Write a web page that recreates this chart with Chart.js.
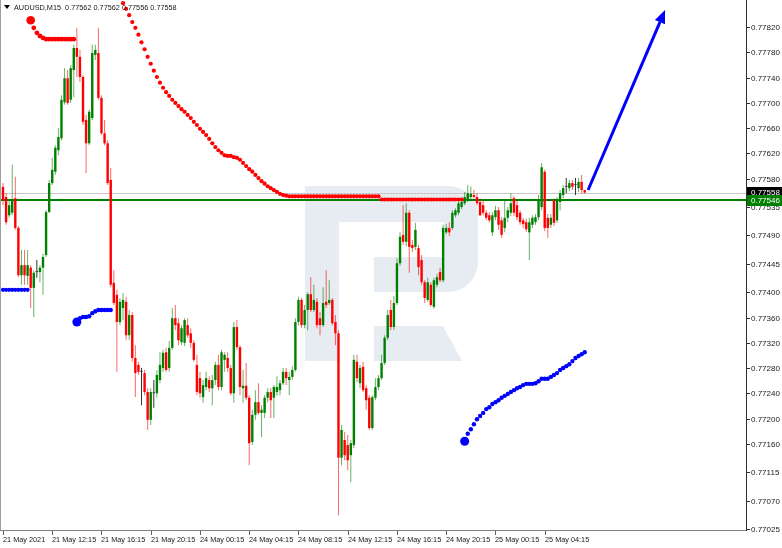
<!DOCTYPE html>
<html><head><meta charset="utf-8">
<script src="https://cdn.jsdelivr.net/npm/chart.js@4/dist/chart.umd.min.js"></script>
<style>html,body{margin:0;padding:0;background:#fff;overflow:hidden}#c{display:block}</style>
</head><body>
<canvas id="c" width="782" height="548"></canvas>
<script>
// ---------------- data ----------------
const symbolTitle = 'AUDUSD,M15';
const xTickBars = [0,16,32,48,64,80,96,112,128,144,160,176];
const xTickLabels = ['21 May 2021','21 May 12:15','21 May 16:15','21 May 20:15','24 May 00:15','24 May 04:15','24 May 08:15','24 May 12:15','24 May 16:15','24 May 20:15','25 May 00:15','25 May 04:15'];
const yTickValues = [0.77820,0.77780,0.77740,0.77700,0.77660,0.77620,0.77580,0.77535,0.77490,0.77445,0.77400,0.77360,0.77320,0.77280,0.77240,0.77200,0.77160,0.77115,0.77070,0.77025];

const openP = [
0.77567,0.77551,0.77522,0.77526,0.77549,0.77502,0.77427,0.77443,0.77426,0.77439,
0.77407,0.77432,0.77432,0.77439,0.77459,0.77527,0.77573,0.77591,0.77625,0.77644,
0.77701,0.77739,0.77705,0.77752,0.77787,0.77773,0.77741,0.77673,0.77636,0.77676,
0.77776,0.77779,0.77708,0.77652,0.77636,0.77578,0.77415,0.77396,0.77353,0.77375,
0.77385,0.77332,0.77364,0.77296,0.77285,0.77274,0.77272,0.77242,0.77198,0.77240,
0.77240,0.77261,0.77280,0.77305,0.77280,0.77312,0.77359,0.77351,0.77321,0.77320,
0.77348,0.77335,0.77320,0.77285,0.77264,0.77234,0.77250,0.77261,0.77248,0.77261,
0.77285,0.77250,0.77293,0.77296,0.77280,0.77240,0.77345,0.77313,0.77248,0.77252,
0.77233,0.77163,0.77206,0.77226,0.77209,0.77209,0.77233,0.77242,0.77233,0.77242,
0.77245,0.77256,0.77274,0.77261,0.77266,0.77277,0.77353,0.77388,0.77348,0.77372,
0.77397,0.77372,0.77385,0.77359,0.77348,0.77385,0.77383,0.77388,0.77353,0.77335,
0.77138,0.77166,0.77158,0.77142,0.77158,0.77290,0.77256,0.77282,0.77248,0.77233,
0.77185,0.77233,0.77250,0.77264,0.77288,0.77328,0.77372,0.77345,0.77383,0.77446,
0.77491,0.77480,0.77526,0.77475,0.77472,0.77470,0.77451,0.77416,0.77388,0.77412,
0.77377,0.77412,0.77432,0.77419,0.77495,0.77502,0.77502,0.77522,0.77526,0.77535,
0.77541,0.77546,0.77551,0.77554,0.77551,0.77543,0.77538,0.77526,0.77522,0.77495,
0.77519,0.77530,0.77514,0.77502,0.77518,0.77526,0.77549,0.77538,0.77526,0.77514,
0.77511,0.77495,0.77507,0.77511,0.77519,0.77535,0.77591,0.77518,0.77507,0.77546,
0.77514,0.77543,0.77554,0.77567,0.77565,0.77573,0.77570,0.77565,0.77575,0.77562];
const highP = [
0.77573,0.77557,0.77546,0.77602,0.77583,0.77505,0.77467,0.77467,0.77467,0.77443,
0.77435,0.77451,0.77443,0.77461,0.77530,0.77578,0.77613,0.77633,0.77660,0.77712,
0.77755,0.77752,0.77760,0.77792,0.77819,0.77784,0.77744,0.77681,0.77689,0.77792,
0.77792,0.77819,0.77712,0.77673,0.77641,0.77597,0.77435,0.77404,0.77391,0.77399,
0.77393,0.77372,0.77369,0.77316,0.77290,0.77280,0.77277,0.77248,0.77248,0.77261,
0.77277,0.77305,0.77309,0.77312,0.77323,0.77375,0.77380,0.77359,0.77348,0.77359,
0.77359,0.77343,0.77324,0.77301,0.77274,0.77261,0.77274,0.77267,0.77269,0.77290,
0.77301,0.77309,0.77305,0.77305,0.77285,0.77353,0.77356,0.77316,0.77277,0.77288,
0.77237,0.77214,0.77245,0.77256,0.77221,0.77237,0.77248,0.77248,0.77253,0.77267,
0.77261,0.77280,0.77280,0.77274,0.77283,0.77359,0.77393,0.77391,0.77380,0.77400,
0.77424,0.77412,0.77391,0.77369,0.77408,0.77435,0.77419,0.77391,0.77364,0.77340,
0.77190,0.77179,0.77174,0.77166,0.77301,0.77301,0.77285,0.77290,0.77253,0.77237,
0.77237,0.77264,0.77269,0.77301,0.77332,0.77372,0.77388,0.77394,0.77454,0.77495,
0.77538,0.77541,0.77530,0.77483,0.77510,0.77475,0.77459,0.77419,0.77423,0.77416,
0.77423,0.77429,0.77439,0.77507,0.77508,0.77511,0.77530,0.77533,0.77546,0.77548,
0.77559,0.77570,0.77568,0.77562,0.77557,0.77549,0.77546,0.77530,0.77527,0.77527,
0.77537,0.77535,0.77519,0.77546,0.77535,0.77557,0.77553,0.77546,0.77530,0.77518,
0.77516,0.77518,0.77522,0.77524,0.77554,0.77605,0.77594,0.77524,0.77524,0.77549,
0.77551,0.77562,0.77570,0.77581,0.77578,0.77578,0.77581,0.77581,0.77586,0.77562];
const lowP = [
0.77538,0.77507,0.77518,0.77522,0.77499,0.77424,0.77412,0.77412,0.77412,0.77375,
0.77361,0.77423,0.77416,0.77396,0.77456,0.77526,0.77570,0.77586,0.77617,0.77641,
0.77697,0.77697,0.77700,0.77709,0.77741,0.77733,0.77665,0.77589,0.77633,0.77673,
0.77768,0.77705,0.77649,0.77633,0.77570,0.77408,0.77380,0.77274,0.77348,0.77356,
0.77324,0.77324,0.77290,0.77234,0.77269,0.77221,0.77237,0.77182,0.77190,0.77217,
0.77233,0.77256,0.77274,0.77274,0.77274,0.77309,0.77340,0.77316,0.77316,0.77315,
0.77328,0.77312,0.77290,0.77237,0.77233,0.77225,0.77245,0.77242,0.77221,0.77253,
0.77245,0.77245,0.77274,0.77274,0.77237,0.77225,0.77309,0.77237,0.77225,0.77229,
0.77126,0.77158,0.77198,0.77206,0.77171,0.77201,0.77226,0.77201,0.77201,0.77236,
0.77237,0.77253,0.77253,0.77237,0.77261,0.77274,0.77348,0.77343,0.77343,0.77340,
0.77369,0.77369,0.77343,0.77332,0.77345,0.77375,0.77380,0.77348,0.77316,0.77047,
0.77126,0.77134,0.77118,0.77099,0.77153,0.77258,0.77248,0.77242,0.77214,0.77182,
0.77182,0.77229,0.77245,0.77261,0.77285,0.77324,0.77340,0.77340,0.77380,0.77442,
0.77475,0.77473,0.77431,0.77464,0.77467,0.77427,0.77412,0.77383,0.77385,0.77377,
0.77374,0.77408,0.77416,0.77416,0.77492,0.77489,0.77499,0.77519,0.77522,0.77532,
0.77538,0.77543,0.77548,0.77548,0.77538,0.77521,0.77522,0.77514,0.77511,0.77489,
0.77514,0.77499,0.77486,0.77495,0.77511,0.77521,0.77521,0.77514,0.77507,0.77502,
0.77495,0.77451,0.77502,0.77507,0.77514,0.77530,0.77497,0.77486,0.77502,0.77505,
0.77510,0.77530,0.77549,0.77557,0.77560,0.77562,0.77554,0.77559,0.77557,0.77556];
const closeP = [
0.77546,0.77511,0.77538,0.77546,0.77502,0.77427,0.77443,0.77427,0.77443,0.77407,
0.77431,0.77432,0.77439,0.77456,0.77527,0.77573,0.77594,0.77629,0.77646,0.77705,
0.77739,0.77700,0.77755,0.77787,0.77773,0.77741,0.77670,0.77636,0.77686,0.77779,
0.77784,0.77708,0.77652,0.77636,0.77573,0.77412,0.77383,0.77353,0.77385,0.77388,
0.77332,0.77364,0.77296,0.77272,0.77274,0.77274,0.77242,0.77198,0.77242,0.77240,
0.77269,0.77285,0.77304,0.77277,0.77312,0.77359,0.77348,0.77324,0.77343,0.77356,
0.77332,0.77320,0.77293,0.77242,0.77240,0.77253,0.77264,0.77248,0.77261,0.77285,
0.77250,0.77305,0.77301,0.77280,0.77240,0.77345,0.77313,0.77250,0.77252,0.77233,
0.77161,0.77206,0.77226,0.77209,0.77214,0.77233,0.77242,0.77229,0.77250,0.77250,
0.77256,0.77274,0.77264,0.77266,0.77277,0.77353,0.77388,0.77348,0.77372,0.77397,
0.77372,0.77388,0.77348,0.77348,0.77383,0.77380,0.77388,0.77351,0.77335,0.77138,
0.77182,0.77142,0.77134,0.77161,0.77293,0.77264,0.77280,0.77245,0.77229,0.77185,
0.77234,0.77250,0.77264,0.77288,0.77328,0.77364,0.77345,0.77383,0.77446,0.77488,
0.77480,0.77526,0.77472,0.77470,0.77499,0.77440,0.77416,0.77391,0.77416,0.77380,
0.77419,0.77424,0.77419,0.77502,0.77502,0.77495,0.77526,0.77530,0.77541,0.77543,
0.77551,0.77557,0.77556,0.77551,0.77541,0.77522,0.77526,0.77518,0.77514,0.77522,
0.77530,0.77507,0.77491,0.77518,0.77530,0.77541,0.77526,0.77519,0.77511,0.77508,
0.77500,0.77511,0.77518,0.77519,0.77546,0.77598,0.77502,0.77502,0.77518,0.77510,
0.77546,0.77557,0.77565,0.77567,0.77573,0.77567,0.77570,0.77575,0.77562,0.77558];

// trailing-level dots (first bar index + values)
const redLevel1Start = 9;
const redLevel1 = [0.77831,0.77819,0.77811,0.77806,0.77803,0.77801,0.77801,0.77801,0.77801,0.77801,0.77801,0.77801,0.77801,0.77801,0.77801];
const redLevel2Start = 39;
const redLevel2 = [
0.77858,0.77849,0.77839,0.77828,0.77819,0.77808,0.77796,0.77785,0.77773,0.77762,
0.77751,0.77741,0.77732,0.77724,0.77717,0.77711,0.77705,0.77700,0.77695,0.77690,
0.77686,0.77681,0.77676,0.77670,0.77665,0.77659,0.77654,0.77649,0.77643,0.77636,
0.77630,0.77625,0.77621,0.77617,0.77616,0.77616,0.77614,0.77613,0.77610,0.77605,
0.77600,0.77595,0.77591,0.77586,0.77581,0.77576,0.77572,0.77568,0.77565,0.77562,
0.77559,0.77556,0.77554,0.77553,
0.77552,0.77552,0.77552,0.77552,0.77552,0.77552,0.77552,0.77552,0.77552,0.77552,
0.77552,0.77552,0.77552,0.77552,0.77552,0.77552,0.77552,0.77552,0.77552,0.77552,
0.77552,0.77552,0.77552,0.77552,0.77552,0.77552,0.77552,0.77552,0.77552,0.77552,
0.77547,0.77547,0.77547,0.77547,0.77547,0.77547,0.77547,0.77547,0.77547,0.77547,
0.77547,0.77547,0.77547,0.77547,0.77547,0.77547,0.77547,0.77547,0.77547,0.77547,
0.77547,0.77547,0.77547,0.77547,0.77547,0.77547,0.77547];
const blueLevel1Start = 0;
const blueLevel1 = [0.77404,0.77404,0.77404,0.77404,0.77404,0.77404,0.77404,0.77404,0.77404];
const blueLevel2Start = 24;
const blueLevel2 = [0.77353,0.77359,0.77361,0.77361,0.77362,0.77367,0.77370,0.77372,0.77372,0.77372,0.77372,0.77372];
const blueLevel3Start = 150;
const blueLevel3 = [
0.77164,0.77176,0.77183,0.77191,0.77199,0.77204,0.77209,0.77215,0.77218,0.77223,
0.77226,0.77229,0.77233,0.77236,0.77239,0.77242,0.77245,0.77248,0.77250,0.77253,
0.77255,0.77255,0.77255,0.77256,0.77259,0.77263,0.77263,0.77263,0.77266,0.77269,
0.77272,0.77277,0.77280,0.77283,0.77286,0.77291,0.77296,0.77299,0.77302,0.77305];

// horizontal levels and forecast arrow
const bidLevel = 0.77558;
const lineLevel = 0.77546;
const arrowBars = [190.1, 215.1];
const arrowPrices = [0.77562, 0.77847];

// ---------------- build ----------------
const UP = '#008000', DN = '#ff0000', DOJI = '#333333';
const n = openP.length;
const wicks = [], bodies = [], cols = [], wcols = [];
for (let i = 0; i < n; i++) {
  const o = openP[i], c = closeP[i];
  wicks.push({x: i, y: [lowP[i], highP[i]]});
  bodies.push({x: i, y: [Math.min(o, c), Math.max(o, c)]});
  const col = c > o ? UP : (c < o ? DN : DOJI);
  cols.push(col);
  wcols.push(c > o ? 'rgba(0,128,0,0.6)' : (c < o ? 'rgba(255,0,0,0.6)' : DOJI));
}
const pts = (start, arr) => arr.map((v, k) => ({x: start + k, y: v}));
function dots(start, arr, color, r, big, order) {
  return {type: 'line', data: pts(start, arr), showLine: false, order: order,
    pointRadius: (c) => (big && c.dataIndex === 0) ? big : r,
    pointBackgroundColor: color, pointBorderWidth: 0, pointHoverRadius: 0};
}

const YFONT = '8px "Liberation Sans", Arial, sans-serif';
const XFONT = '7.3px "Liberation Sans", Arial, sans-serif';

const mt4 = {
  id: 'mt4',
  beforeDatasetsDraw(chart) {
    const {ctx, chartArea: a, scales: {y}} = chart;
    const L = a.left, T = a.top;
    ctx.save();
    // watermark logo
    ctx.fillStyle = '#E7EBF2';
    ctx.fillRect(L + 305, T + 186, 34, 175);
    ctx.beginPath();
    ctx.moveTo(L + 339, T + 186);
    ctx.lineTo(L + 448, T + 186);
    ctx.arcTo(L + 478, T + 186, L + 478, T + 216, 30);
    ctx.lineTo(L + 478, T + 262);
    ctx.arcTo(L + 478, T + 292, L + 448, T + 292, 30);
    ctx.lineTo(L + 374, T + 292);
    ctx.lineTo(L + 374, T + 257);
    ctx.lineTo(L + 444, T + 257);
    ctx.lineTo(L + 444, T + 222);
    ctx.lineTo(L + 339, T + 222);
    ctx.closePath();
    ctx.fill();
    ctx.beginPath();
    ctx.moveTo(L + 374, T + 326);
    ctx.lineTo(L + 443, T + 326);
    ctx.lineTo(L + 462, T + 361);
    ctx.lineTo(L + 374, T + 361);
    ctx.closePath();
    ctx.fill();
    // level lines
    const yb = Math.round(y.getPixelForValue(bidLevel));
    ctx.fillStyle = '#c8c8c8';
    ctx.fillRect(a.left, yb, a.right - a.left, 1);
    const yl = Math.round(y.getPixelForValue(lineLevel));
    ctx.fillStyle = '#008000';
    ctx.fillRect(a.left, yl - 1, a.right - a.left, 2);
    ctx.restore();
  },
  afterDatasetsDraw(chart) {
    const {ctx, scales: {x, y}} = chart;
    const x0 = x.getPixelForValue(arrowBars[0]), y0 = y.getPixelForValue(arrowPrices[0]);
    const x1 = x.getPixelForValue(arrowBars[1]), y1 = y.getPixelForValue(arrowPrices[1]);
    const ang = Math.atan2(y1 - y0, x1 - x0);
    const hl = 13, hw = 5.5;
    const bx = x1 - Math.cos(ang) * hl, by = y1 - Math.sin(ang) * hl;
    ctx.save();
    ctx.strokeStyle = '#0000ff';
    ctx.fillStyle = '#0000ff';
    ctx.lineWidth = 3;
    ctx.beginPath(); ctx.moveTo(x0, y0); ctx.lineTo(bx, by); ctx.stroke();
    ctx.beginPath();
    ctx.moveTo(x1, y1);
    ctx.lineTo(bx + Math.sin(ang) * hw, by - Math.cos(ang) * hw);
    ctx.lineTo(bx - Math.sin(ang) * hw, by + Math.cos(ang) * hw);
    ctx.closePath(); ctx.fill();
    ctx.restore();
  },
  afterDraw(chart) {
    const {ctx, chartArea: a, scales: {x, y}} = chart;
    ctx.save();
    // frame
    ctx.fillStyle = '#a0a0a0';
    ctx.fillRect(a.left, a.top, 1, a.bottom - a.top);
    ctx.fillStyle = '#808080';
    ctx.fillRect(a.left, a.bottom, a.right - a.left + 1, 1);
    ctx.fillStyle = '#303030';
    ctx.fillRect(a.right, a.top, 1, a.bottom - a.top + 1);
    ctx.textBaseline = 'middle';
    ctx.textAlign = 'left';
    // x ticks
    ctx.font = XFONT;
    xTickBars.forEach((b, k) => {
      const px = Math.round(x.getPixelForValue(b));
      ctx.fillStyle = '#606060';
      ctx.fillRect(px, a.bottom + 1, 1, 4);
      ctx.fillStyle = '#202020';
      ctx.fillText(xTickLabels[k], px, a.bottom + 10);
    });
    // y ticks
    ctx.font = YFONT;
    yTickValues.forEach(v => {
      const py = Math.round(y.getPixelForValue(v));
      ctx.fillStyle = '#303030';
      ctx.fillRect(a.right + 1, py, 3, 1);
      ctx.fillStyle = '#202020';
      ctx.fillText(v.toFixed(5), a.right + 5, py + 0.5);
    });
    // price boxes
    const box = (v, bg) => {
      const py = y.getPixelForValue(v);
      ctx.fillStyle = bg;
      ctx.fillRect(a.right + 1, Math.round(py - 5.5), 782 - a.right, 11);
      ctx.fillStyle = '#ffffff';
      ctx.fillText(v.toFixed(5), a.right + 5, py + 0.5);
    };
    box(bidLevel, '#000000');
    box(lineLevel, '#008000');
    // title
    ctx.fillStyle = '#000';
    ctx.beginPath();
    ctx.moveTo(a.left + 4, 5); ctx.lineTo(a.left + 10, 5); ctx.lineTo(a.left + 7, 9); ctx.closePath(); ctx.fill();
    const last = n - 1;
    const title = symbolTitle + '  ' + [openP[last], highP[last], lowP[last], closeP[last]].map(v => v.toFixed(5)).join(' ');
    ctx.font = XFONT;
    ctx.fillStyle = '#202020';
    ctx.fillText(title, a.left + 14, 7.5);
    ctx.restore();
  }
};

new Chart(document.getElementById('c'), {
  type: 'bar',
  data: {datasets: [
    {type: 'bar', data: wicks, backgroundColor: wcols, barThickness: 1, grouped: false, order: 5, borderWidth: 0, inflateAmount: 0},
    {type: 'bar', data: bodies, backgroundColor: cols, barThickness: 2.4, grouped: false, order: 4, borderWidth: 0, minBarLength: 1, inflateAmount: 0},
    dots(redLevel1Start, redLevel1, '#ff0000', 2.4, 4.3, 1),
    dots(redLevel2Start, redLevel2, '#ff0000', 2.1, 0, 1),
    dots(blueLevel1Start, blueLevel1, '#0000ff', 2.1, 0, 1),
    dots(blueLevel2Start, blueLevel2, '#0000ff', 2.2, 4.5, 1),
    dots(blueLevel3Start, blueLevel3, '#0000ff', 2.2, 4.5, 1)
  ]},
  options: {
    responsive: false, animation: false, devicePixelRatio: 1,
    layout: {autoPadding: false, padding: {left: 0, top: 0, right: 36, bottom: 18}},
    plugins: {legend: {display: false}, tooltip: {enabled: false}},
    events: [],
    scales: {
      x: {type: 'linear', display: false, min: -0.97, max: 241.4, offset: false},
      y: {type: 'linear', display: false, min: 0.770235, max: 0.77863, beginAtZero: false}
    }
  },
  plugins: [mt4]
});
</script>
</body></html>
